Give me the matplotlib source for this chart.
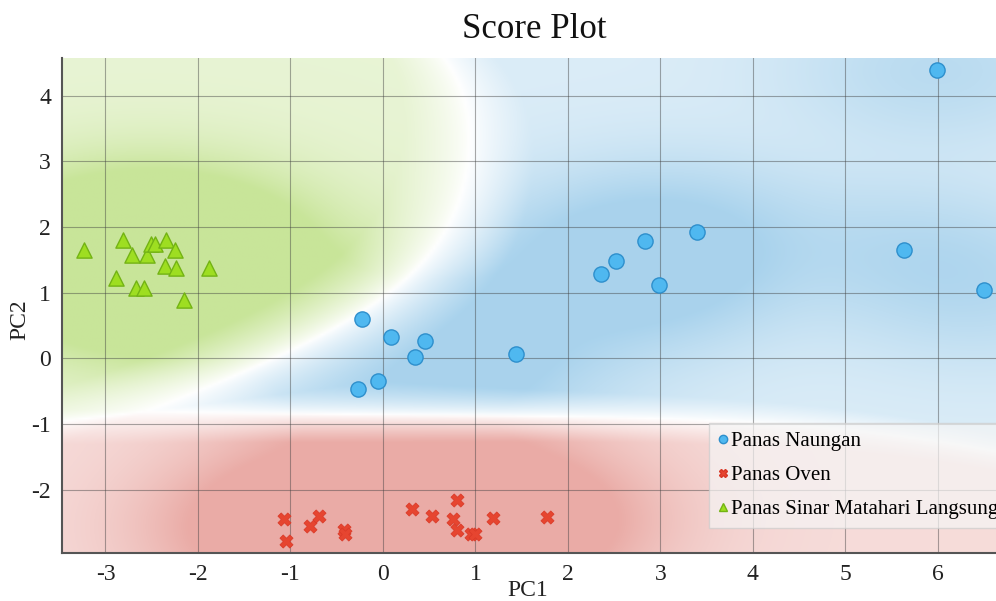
import numpy as np
import matplotlib
matplotlib.use("Agg")
import matplotlib.pyplot as plt
from matplotlib.lines import Line2D

# ---- data ----
naungan_x = [-0.23, 0.09, -0.05, -0.27, 0.35, 0.45, 1.44, 2.36, 2.52, 2.83, 3.40, 2.99, 5.63, 5.99, 6.50]
naungan_y = [0.60, 0.33, -0.35, -0.47, 0.02, 0.26, 0.06, 1.28, 1.49, 1.78, 1.93, 1.11, 1.65, 4.39, 1.04]

oven_x = [-1.07, -1.05, -0.79, -0.69, -0.42, -0.41, 0.31, 0.53, 0.80, 0.76, 0.80, 0.95, 1.00, 1.19, 1.77]
oven_y = [-2.44, -2.78, -2.55, -2.40, -2.61, -2.67, -2.30, -2.40, -2.16, -2.45, -2.61, -2.68, -2.67, -2.43, -2.41]

sinar_x = [-3.23, -2.81, -2.71, -2.89, -2.67, -2.58, -2.55, -2.51, -2.46, -2.34, -2.25, -2.36, -2.24, -2.15, -1.88]
sinar_y = [1.65, 1.81, 1.58, 1.23, 1.07, 1.07, 1.57, 1.74, 1.74, 1.81, 1.65, 1.40, 1.37, 0.89, 1.37]

labels = ["Panas Naungan", "Panas Oven", "Panas Sinar Matahari Langsung"]
xticks = [-3, -2, -1, 0, 1, 2, 3, 4, 5, 6]
yticks = [-2, -1, 0, 1, 2, 3, 4]

# ---- style ----
serif = ["Liberation Serif", "DejaVu Serif"]
plt.rcParams['font.family'] = serif

XMIN, XMAX = -3.47, 6.63
YMIN, YMAX = -2.96, 4.57

face = [(0.31, 0.72, 0.94), (0.90, 0.27, 0.19), (0.62, 0.87, 0.13)]
edge = [(0.18, 0.56, 0.80), (0.85, 0.22, 0.15), (0.45, 0.70, 0.08)]
bgcol = np.array([(90, 170, 220), (215, 95, 85), (150, 205, 60)]) / 255.0

fig = plt.figure(figsize=(9.96, 6.01), dpi=100)
ax = fig.add_axes([62/996, 1-552.7/601, 1-62/996, (552.7-58.3)/601])

# ---- class density background ----
groups = [(np.array(naungan_x), np.array(naungan_y)),
          (np.array(oven_x), np.array(oven_y)),
          (np.array(sinar_x), np.array(sinar_y))]
gx = np.linspace(XMIN, XMAX, 300)
gy = np.linspace(YMIN, YMAX, 230)
GX, GY = np.meshgrid(gx, gy)
sx, sy = XMAX - XMIN, YMAX - YMIN
sig_x, sig_y = 0.22, 0.155
sig_d = 0.09
W = []
D = np.zeros_like(GX)
for px, py in groups:
    ddx = (GX[..., None] - px) / sx
    ddy = (GY[..., None] - py) / sy
    W.append(np.exp(-(ddx / sig_x) ** 2 / 2 - (ddy / sig_y) ** 2 / 2).sum(-1))
    D += np.exp(-(ddx ** 2 + ddy ** 2) / (2 * sig_d ** 2)).sum(-1)
W = np.stack(W, -1)
P = W / W.sum(-1, keepdims=True)
Ps = np.sort(P, -1)
margin = Ps[..., -1] - Ps[..., -2]
purity = np.clip(margin / 0.35, 0, 1) ** 0.8
dn = np.clip(D / 2.0, 0, 1) ** 0.6
alpha = 0.52 * purity * (0.42 + 0.58 * dn)
idx = P.argmax(-1)
col = bgcol[idx]
img = (1 - alpha[..., None]) * 1.0 + alpha[..., None] * col
ax.imshow(img, extent=[XMIN, XMAX, YMIN, YMAX], origin="lower",
          aspect="auto", interpolation="bilinear", zorder=0)

# ---- points ----
ax.scatter(naungan_x, naungan_y, s=120, marker="o", c=[face[0]], edgecolors=[edge[0]],
           linewidths=1.0, zorder=3)
ax.scatter(oven_x, oven_y, s=90, marker="X", c=[face[1]], edgecolors=[edge[1]],
           linewidths=0.5, zorder=3)
ax.scatter(sinar_x, sinar_y, s=120, marker="^", c=[face[2]], edgecolors=[edge[2]],
           linewidths=1.0, zorder=3)

ax.set_xlim(XMIN, XMAX)
ax.set_ylim(YMIN, YMAX)
ax.set_xticks(xticks)
ax.set_yticks(yticks)
ax.set_xticklabels([str(t) for t in xticks])
ax.set_yticklabels([str(t) for t in yticks])
ax.grid(True, color=(0.25, 0.25, 0.25), alpha=0.45, linewidth=0.8)
ax.tick_params(length=0, labelsize=17, pad=8, colors="#222222")
for s in ["top", "right"]:
    ax.spines[s].set_visible(False)
for s in ["left", "bottom"]:
    ax.spines[s].set_color("#555555")
    ax.spines[s].set_linewidth(1.5)

fig.text(534/996, 1 - 30/601, "Score Plot", ha="center", va="center", fontsize=25, color="#111111")
fig.text(528/996, 1 - 590/601, "PC1", ha="center", va="center", fontsize=17, color="#222222")
fig.text(20/996, 1 - 320/601, "PC2", ha="center", va="center", fontsize=17, rotation=90, color="#222222")

handles = [Line2D([], [], marker="o", ls="", markersize=6, markerfacecolor=face[0], markeredgecolor=edge[0]),
           Line2D([], [], marker="X", ls="", markersize=6, markerfacecolor=face[1], markeredgecolor=edge[1]),
           Line2D([], [], marker="^", ls="", markersize=6, markerfacecolor=face[2], markeredgecolor=edge[2])]
leg = ax.legend(handles, labels, loc="upper left", bbox_to_anchor=(709/996, 1 - 423/601),
                bbox_transform=fig.transFigure, fontsize=15, frameon=True, fancybox=False,
                handlelength=0.5, handletextpad=0.15, borderpad=0.4, labelspacing=0.7,
                borderaxespad=0)
leg.get_frame().set_facecolor((0.96, 0.96, 0.96))
leg.get_frame().set_alpha(0.7)
leg.get_frame().set_edgecolor("#cccccc")

fig.savefig("out.png", dpi=100)
